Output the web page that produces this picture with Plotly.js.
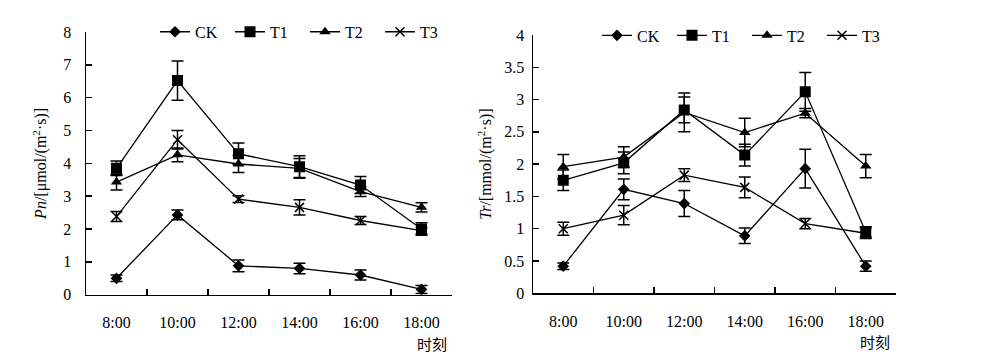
<!DOCTYPE html>
<html><head><meta charset="utf-8">
<script src="https://cdn.plot.ly/plotly-3.0.1.min.js"></script>
<style>html,body{margin:0;padding:0;background:#fff}#c{width:1000px;height:354px}</style>
</head><body><div id="c"></div>
<script>
const times = ['8:00','10:00','12:00','14:00','16:00','18:00'];
const seriesNames = ['CK','T1','T2','T3'];
// Pn values and error
const pnCK = [0.50, 2.43, 0.88, 0.80, 0.60, 0.16];
const pnT1 = [3.85, 6.52, 4.29, 3.90, 3.34, 2.00];
const pnT2 = [3.43, 4.26, 3.98, 3.85, 3.14, 2.66];
const pnT3 = [2.38, 4.72, 2.91, 2.66, 2.26, 1.95];
const pnCKerr = [0.10, 0.15, 0.18, 0.16, 0.15, 0.12];
const pnT1err = [0.22, 0.60, 0.33, 0.33, 0.26, 0.19];
const pnT2err = [0.24, 0.21, 0.26, 0.30, 0.15, 0.14];
const pnT3err = [0.15, 0.28, 0.10, 0.23, 0.12, 0.10];
// Tr values and error
const trCK = [0.42, 1.61, 1.39, 0.89, 1.93, 0.42];
const trT1 = [1.75, 2.02, 2.84, 2.14, 3.12, 0.95];
const trT2 = [1.96, 2.11, 2.80, 2.49, 2.79, 1.97];
const trT3 = [1.00, 1.21, 1.83, 1.64, 1.08, 0.93];
const trCKerr = [0.05, 0.16, 0.20, 0.12, 0.30, 0.08];
const trT1err = [0.16, 0.17, 0.20, 0.17, 0.30, 0.08];
const trT2err = [0.19, 0.16, 0.30, 0.22, 0.07, 0.18];
const trT3err = [0.10, 0.15, 0.10, 0.16, 0.08, 0.08];

const symbols = ['diamond','square','triangle-up','x-thin'];
const sizes = [9, 11, 10, 9];
const FONT = 'Liberation Serif, Times New Roman, serif';

function mk(name, y, err, i, xa, ya, leg) {
  return {
    x: times, y: y, name: name, type: 'scatter', mode: 'lines+markers',
    xaxis: xa, yaxis: ya, legend: leg,
    line: {color: '#000', width: 1.3},
    marker: {symbol: symbols[i], size: sizes[i], color: '#000', line: {color: '#000', width: i === 3 ? 1.5 : 0}},
    error_y: {type: 'data', array: err, visible: true, color: '#000', thickness: 1.5, width: 6}
  };
}
const pnY = [pnCK, pnT1, pnT2, pnT3], pnE = [pnCKerr, pnT1err, pnT2err, pnT3err];
const trY = [trCK, trT1, trT2, trT3], trE = [trCKerr, trT1err, trT2err, trT3err];
const data = [];
seriesNames.forEach((n, i) => data.push(mk(n, pnY[i], pnE[i], i, 'x', 'y', 'legend')));
seriesNames.forEach((n, i) => data.push(mk(n, trY[i], trE[i], i, 'x2', 'y2', 'legend2')));

const tickFont = {family: FONT, size: 16, color: '#000'};
function xax(dom, anchor) {
  return {domain: dom, anchor: anchor, type: 'category', range: [-0.5, 5.5],
    showline: true, linecolor: '#000', linewidth: 1.5, ticks: 'inside', ticklen: 6, tickwidth: 1.5,
    tickcolor: '#000', tickson: 'boundaries', showgrid: false, zeroline: false, tickfont: tickFont,
    ticklabelstandoff: 13, fixedrange: true, automargin: false};
}
function yax(dom, anchor, rng, dt, fmt, title, standoff, lstand) {
  return {domain: dom, anchor: anchor, range: rng, dtick: dt, tick0: 0, tickformat: fmt,
    showline: true, linecolor: '#000', linewidth: 1.5, ticks: 'inside', ticklen: 6, tickwidth: 1.5,
    tickcolor: '#000', showgrid: false, zeroline: false, tickfont: tickFont, ticklabelstandoff: lstand,
    title: {text: title, font: {family: FONT, size: 16, color: '#000'}, standoff: standoff},
    fixedrange: true, automargin: false};
}
const legFont = {family: FONT, size: 16, color: '#000'};
const layout = {
  width: 1000, height: 354, margin: {l: 0, r: 0, t: 0, b: 0, autoexpand: false},
  paper_bgcolor: '#fff', plot_bgcolor: '#fff', showlegend: true,
  xaxis: xax([0.086, 0.452], 'y'),
  yaxis: yax([0.1675, 0.9096], 'x', [0, 8], 1, '', '<i>Pn</i>/[μmol/(m<sup>2</sup>·s)]', 12, 10),
  xaxis2: xax([0.533, 0.896], 'y2'),
  yaxis2: yax([0.1715, 0.9011], 'x2', [0, 4], 0.5, '', '<i>Tr</i>/[mmol/(m<sup>2</sup>·s)]', 8, 4),
  legend: {orientation: 'h', x: 0.155, y: 0.91, xanchor: 'left', yanchor: 'middle', font: legFont,
    bgcolor: 'rgba(0,0,0,0)', itemwidth: 30, entrywidth: 30, entrywidthmode: 'pixels', tracegroupgap: 0},
  legend2: {orientation: 'h', x: 0.597, y: 0.90, xanchor: 'left', yanchor: 'middle', font: legFont,
    bgcolor: 'rgba(0,0,0,0)', itemwidth: 30, entrywidth: 30, entrywidthmode: 'pixels', tracegroupgap: 0},
  annotations: [
    {text: '时刻', xref: 'paper', yref: 'paper', x: 0.432, y: 0.03, xanchor: 'center', yanchor: 'middle',
     showarrow: false, font: {family: 'Noto Sans CJK SC, sans-serif', size: 15, color: '#000'}},
    {text: '时刻', xref: 'paper', yref: 'paper', x: 0.875, y: 0.035, xanchor: 'center', yanchor: 'middle',
     showarrow: false, font: {family: 'Noto Sans CJK SC, sans-serif', size: 15, color: '#000'}}
  ]
};
Plotly.newPlot('c', data, layout, {displayModeBar: false, staticPlot: true});
</script></body></html>
